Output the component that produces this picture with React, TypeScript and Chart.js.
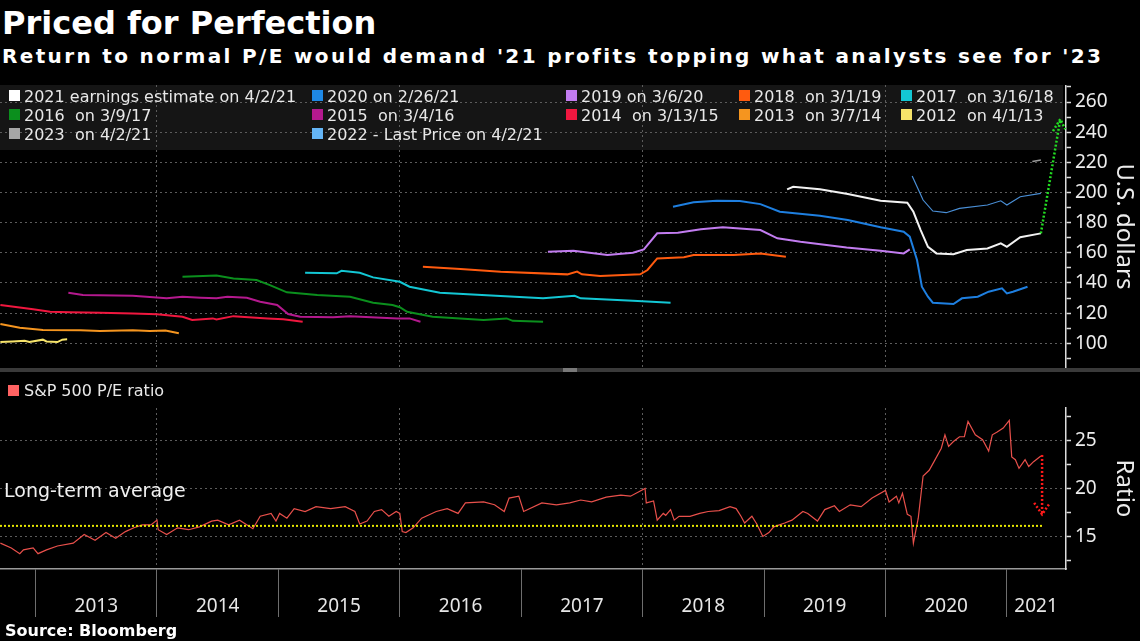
import React, { useEffect, useRef } from 'react';
import { Chart, registerables } from 'chart.js';

Chart.register(...registerables);

// ---------- shared time axis (decimal years) ----------
const xMin = 2012.707;
const xMax = 2021.487;
const yearBoundaries = [2013, 2014, 2015, 2016, 2017, 2018, 2019, 2020, 2021];
const yearLabels = ['2013', '2014', '2015', '2016', '2017', '2018', '2019', '2020', '2021'];
const yearLabelAt = [2013.5, 2014.5, 2015.5, 2016.5, 2017.5, 2018.5, 2019.5, 2020.5, 2021.24];
const gridYears = [2014, 2016, 2018, 2020];

// ---------- top panel: U.S. dollars ----------
const usdMin = 83.6;
const usdMax = 271.3;
const usdTicks = [90, 100, 110, 120, 130, 140, 150, 160, 170, 180, 190, 200, 210, 220, 230, 240, 250, 260, 270];
const usdLabelled = [100, 120, 140, 160, 180, 200, 220, 240, 260];

const e2021Dates = [2019.19, 2019.24, 2019.46, 2019.69, 2019.96, 2020.18, 2020.23, 2020.29, 2020.35, 2020.42, 2020.56, 2020.67, 2020.84, 2020.95, 2021.0, 2021.11, 2021.28];
const e2021Values = [202.1, 203.8, 202.1, 199.0, 194.5, 193.2, 187.2, 175.1, 164.0, 159.6, 159.0, 161.8, 162.9, 166.3, 164.0, 170.3, 172.9];

const e2020Dates = [2018.25, 2018.42, 2018.61, 2018.8, 2018.97, 2019.13, 2019.46, 2019.69, 2019.96, 2020.15, 2020.2, 2020.26, 2020.3, 2020.35, 2020.39, 2020.56, 2020.63, 2020.76, 2020.85, 2020.96, 2021.0, 2021.05, 2021.17];
const e2020Values = [190.6, 193.5, 194.5, 194.3, 192.3, 187.2, 184.6, 181.7, 176.9, 174.0, 170.7, 155.2, 137.5, 130.9, 126.9, 126.0, 129.8, 130.9, 134.2, 136.4, 133.1, 134.2, 137.5];

const e2019Dates = [2017.22, 2017.43, 2017.71, 2017.92, 2018.01, 2018.12, 2018.29, 2018.48, 2018.66, 2018.97, 2019.11, 2019.3, 2019.68, 2019.96, 2020.15, 2020.2];
const e2019Values = [160.7, 161.4, 158.5, 160.0, 162.3, 172.9, 173.3, 175.6, 176.9, 175.1, 169.6, 167.3, 163.6, 161.4, 159.6, 162.3];

const e2018Dates = [2016.19, 2016.5, 2016.83, 2017.38, 2017.46, 2017.5, 2017.65, 2017.98, 2018.04, 2018.12, 2018.34, 2018.42, 2018.75, 2018.97, 2019.18];
const e2018Values = [150.8, 149.2, 147.5, 145.7, 147.5, 145.7, 144.6, 145.7, 148.6, 156.3, 157.0, 158.5, 158.5, 159.6, 157.4];

const e2017Dates = [2015.22, 2015.48, 2015.52, 2015.67, 2015.78, 2016.0, 2016.08, 2016.33, 2016.83, 2017.18, 2017.44, 2017.49, 2017.92, 2018.23];
const e2017Values = [146.8, 146.4, 148.1, 146.8, 143.7, 140.8, 137.5, 133.5, 131.3, 129.8, 131.5, 129.8, 128.2, 126.9];

const e2016Dates = [2014.21, 2014.49, 2014.63, 2014.82, 2014.93, 2015.07, 2015.32, 2015.59, 2015.78, 2015.94, 2016.0, 2016.06, 2016.27, 2016.69, 2016.88, 2016.93, 2017.18];
const e2016Values = [144.1, 145.0, 143.0, 141.9, 138.6, 133.8, 132.0, 130.9, 126.9, 125.4, 123.9, 120.9, 117.6, 115.4, 116.5, 114.9, 114.3];

const e2015Dates = [2013.27, 2013.39, 2013.8, 2014.08, 2014.21, 2014.36, 2014.49, 2014.58, 2014.74, 2014.85, 2014.99, 2015.08, 2015.18, 2015.45, 2015.59, 2015.98, 2016.08, 2016.17];
const e2015Values = [133.5, 132.0, 131.5, 129.8, 130.9, 130.2, 129.8, 130.9, 130.2, 127.6, 125.4, 119.4, 117.6, 117.2, 118.0, 116.5, 116.5, 114.3];

const e2014Dates = [2012.71, 2012.98, 2013.12, 2013.28, 2013.53, 2013.8, 2014.0, 2014.21, 2014.29, 2014.46, 2014.49, 2014.63, 2014.91, 2015.04, 2015.2];
const e2014Values = [125.4, 122.5, 120.9, 120.6, 120.3, 119.8, 119.2, 117.6, 115.4, 116.5, 115.8, 118.0, 116.5, 116.0, 114.3];

const e2013Dates = [2012.71, 2012.87, 2013.06, 2013.37, 2013.53, 2013.8, 2013.94, 2014.07, 2014.18];
const e2013Values = [112.8, 110.3, 108.8, 108.6, 108.2, 108.6, 108.1, 108.4, 106.6];

const e2012Dates = [2012.71, 2012.81, 2012.91, 2012.95, 2013.06, 2013.09, 2013.18, 2013.22, 2013.26];
const e2012Values = [100.8, 101.2, 101.7, 100.8, 102.4, 101.2, 100.8, 102.4, 102.6];

const e2023Dates = [2021.21, 2021.28];
const e2023Values = [220.6, 221.6];

const e2022Dates = [2020.22, 2020.31, 2020.39, 2020.5, 2020.61, 2020.84, 2020.95, 2021.0, 2021.11, 2021.28];
const e2022Values = [210.9, 195.0, 187.7, 186.6, 189.5, 191.7, 194.5, 191.7, 197.2, 199.4];

// green arrow: 2021 profits needed for a normal P/E
const upArrowDates = [2021.28, 2021.44];
const upArrowValues = [172.9, 248.7];
const upHeadDates = [2021.38, 2021.44, 2021.48];
const upHeadValues = [240.7, 248.7, 242.0];

// ---------- bottom panel: P/E ratio ----------
const ratioMin = 11.6;
const ratioMax = 28.4;
const ratioTicks = [12.5, 15, 17.5, 20, 22.5, 25, 27.5];
const ratioLabelled = [15, 20, 25];

const peDates = [2012.71, 2012.8, 2012.87, 2012.9, 2012.98, 2013.02, 2013.09, 2013.18, 2013.31, 2013.4, 2013.49, 2013.58, 2013.66, 2013.74, 2013.81, 2013.88, 2013.95, 2014.0, 2014.01, 2014.08, 2014.17, 2014.26, 2014.35, 2014.45, 2014.5, 2014.59, 2014.68, 2014.79, 2014.85, 2014.94, 2014.98, 2015.01, 2015.07, 2015.13, 2015.22, 2015.31, 2015.43, 2015.55, 2015.63, 2015.67, 2015.73, 2015.79, 2015.85, 2015.91, 2015.97, 2016.0, 2016.02, 2016.05, 2016.11, 2016.18, 2016.3, 2016.39, 2016.48, 2016.54, 2016.69, 2016.78, 2016.86, 2016.9, 2016.98, 2017.02, 2017.17, 2017.29, 2017.4, 2017.49, 2017.58, 2017.7, 2017.82, 2017.9, 2018.02, 2018.03, 2018.09, 2018.12, 2018.17, 2018.19, 2018.23, 2018.26, 2018.3, 2018.39, 2018.47, 2018.54, 2018.63, 2018.72, 2018.77, 2018.81, 2018.84, 2018.9, 2018.94, 2018.99, 2019.04, 2019.08, 2019.17, 2019.23, 2019.32, 2019.36, 2019.44, 2019.5, 2019.58, 2019.62, 2019.71, 2019.8, 2019.89, 2020.0, 2020.03, 2020.09, 2020.11, 2020.14, 2020.18, 2020.21, 2020.23, 2020.27, 2020.31, 2020.36, 2020.4, 2020.46, 2020.49, 2020.52, 2020.56, 2020.61, 2020.65, 2020.68, 2020.74, 2020.8, 2020.85, 2020.88, 2020.92, 2020.97, 2021.02, 2021.04, 2021.07, 2021.1, 2021.15, 2021.18, 2021.22, 2021.28];
const peValues = [14.3, 13.8, 13.2, 13.6, 13.8, 13.2, 13.6, 14.0, 14.3, 15.2, 14.6, 15.4, 14.8, 15.5, 15.9, 16.2, 16.2, 16.7, 15.7, 15.2, 15.9, 15.7, 16.0, 16.6, 16.7, 16.2, 16.7, 15.8, 17.1, 17.4, 16.6, 17.4, 16.9, 17.9, 17.6, 18.1, 17.9, 18.1, 17.6, 16.3, 16.6, 17.6, 17.8, 17.1, 17.6, 17.4, 15.5, 15.4, 15.9, 16.9, 17.6, 17.9, 17.4, 18.5, 18.6, 18.3, 17.6, 19.0, 19.2, 17.6, 18.5, 18.3, 18.5, 18.8, 18.6, 19.1, 19.3, 19.2, 20.0, 18.5, 18.7, 16.7, 17.4, 17.2, 17.8, 16.7, 17.1, 17.1, 17.4, 17.6, 17.7, 18.1, 17.9, 17.1, 16.4, 17.1, 16.3, 15.0, 15.4, 16.0, 16.4, 16.7, 17.6, 17.4, 16.6, 17.8, 18.2, 17.6, 18.3, 18.1, 19.0, 19.8, 18.6, 19.2, 18.5, 19.5, 17.3, 17.1, 14.3, 16.9, 21.3, 21.9, 22.8, 24.2, 25.6, 24.4, 24.9, 25.4, 25.4, 27.0, 25.6, 25.1, 23.9, 25.6, 25.9, 26.3, 27.1, 23.3, 23.0, 22.1, 23.0, 22.3, 22.8, 23.4];

const longTermAverage = 16.1;
const averageSpan = [2012.707, 2021.29];

// red arrow: fall back to average
const downArrowDates = [2021.29, 2021.29];
const downArrowValues = [23.5, 17.3];
const downHeadDates = [2021.225, 2021.29, 2021.355];
const downHeadValues = [18.5, 17.3, 18.5];

// ---------- legend (top panel) ----------
const topLegend = [
  { label: '2021 earnings estimate on 4/2/21', color: '#ffffff', row: 0, col: 0 },
  { label: '2020 on 2/26/21', color: '#1e88e5', row: 0, col: 1 },
  { label: '2019 on 3/6/20', color: '#c27cf0', row: 0, col: 2 },
  { label: '2018  on 3/1/19', color: '#ff5b0f', row: 0, col: 3 },
  { label: '2017  on 3/16/18', color: '#13c7d4', row: 0, col: 4 },
  { label: '2016  on 3/9/17', color: '#0b8f1d', row: 1, col: 0 },
  { label: '2015  on 3/4/16', color: '#b4198e', row: 1, col: 1 },
  { label: '2014  on 3/13/15', color: '#f0173f', row: 1, col: 2 },
  { label: '2013  on 3/7/14', color: '#f5951f', row: 1, col: 3 },
  { label: '2012  on 4/1/13', color: '#f6e36a', row: 1, col: 4 },
  { label: '2023  on 4/2/21', color: '#a6a6a6', row: 2, col: 0 },
  { label: '2022 - Last Price on 4/2/21', color: '#64b5f6', row: 2, col: 1 },
];
const legendColX = [9, 312, 566, 739, 901];
const legendRowY = [90, 109, 128];

const UI_FONT = '"DejaVu Sans", sans-serif';
const AXIS_FONT = '"Noto Sans", sans-serif';

function line(xs: number[], ys: number[], color: string, width: number, dash?: number[]) {
  return {
    data: xs.map((x, i) => ({ x, y: ys[i] })),
    borderColor: color,
    backgroundColor: color,
    borderWidth: width,
    borderDash: dash || [],
    pointRadius: 0,
    tension: 0,
    fill: false,
    clip: false as any,
  };
}

const NONE = 'rgba(0,0,0,0)';

function timeAxis(withLabels: boolean) {
  return {
    type: 'linear' as const,
    position: 'bottom' as const,
    min: xMin,
    max: xMax,
    bounds: 'data' as const,
    afterBuildTicks: (axis: any) => {
      const vals = withLabels ? [...yearBoundaries, ...yearLabelAt] : [...gridYears];
      vals.sort((a, b) => a - b);
      axis.ticks = vals.map((v) => ({ value: v }));
    },
    afterFit: (axis: any) => {
      axis.height = withLabels ? 72 : 0;
      axis.paddingLeft = 0;
      axis.paddingRight = 0;
    },
    grid: {
      color: (ctx: any) => (ctx.tick && gridYears.includes(ctx.tick.value) ? '#5c5c5c' : NONE),
      lineWidth: 1,
      drawTicks: withLabels,
      tickLength: 48,
      tickColor: (ctx: any) => (ctx.tick && yearBoundaries.includes(ctx.tick.value) ? '#6e6e6e' : NONE),
      tickWidth: 1,
      tickBorderDash: [],
    },
    border: { display: withLabels, color: '#9a9a9a', width: 1.5, dash: [2, 3] },
    ticks: {
      display: withLabels,
      autoSkip: false,
      maxRotation: 0,
      minRotation: 0,
      padding: -22,
      color: '#e6e6e6',
      font: { family: AXIS_FONT, size: 19 },
      callback: (value: any) => {
        const i = yearLabelAt.indexOf(value);
        return i >= 0 ? yearLabels[i] : '';
      },
    },
  };
}

function valueAxis(min: number, max: number, ticks: number[], labelled: number[], title: string) {
  return {
    type: 'linear' as const,
    position: 'right' as const,
    min,
    max,
    bounds: 'data' as const,
    afterBuildTicks: (axis: any) => {
      axis.ticks = ticks.map((v) => ({ value: v }));
    },
    afterFit: (axis: any) => {
      axis.width = 74;
      axis.paddingTop = 0;
      axis.paddingBottom = 0;
    },
    grid: {
      color: (ctx: any) => (ctx.tick && labelled.includes(ctx.tick.value) ? '#5c5c5c' : NONE),
      lineWidth: 1,
      drawTicks: true,
      tickLength: 5,
      tickColor: '#dcdcdc',
      tickWidth: 1.5,
      tickBorderDash: [],
    },
    border: { display: true, color: '#dcdcdc', width: 1.5, dash: [2, 3] },
    ticks: {
      autoSkip: false,
      padding: 4,
      color: '#ececec',
      font: { family: AXIS_FONT, size: 19 },
      callback: (value: any) => (labelled.includes(value) ? String(value) : ''),
    },
    title: {
      display: true,
      text: title,
      color: '#ececec',
      font: { family: AXIS_FONT, size: 24 },
      padding: { top: 2, bottom: 0 },
    },
  };
}

const baseOptions = {
  responsive: false,
  maintainAspectRatio: false,
  animation: false as const,
  events: [] as any[],
  plugins: { legend: { display: false }, tooltip: { enabled: false }, title: { display: false } },
};

export default function App() {
  const topRef = useRef<HTMLCanvasElement>(null);
  const bottomRef = useRef<HTMLCanvasElement>(null);

  useEffect(() => {
    const top = new Chart(topRef.current as HTMLCanvasElement, {
      type: 'line',
      data: {
        datasets: [
          line(upArrowDates, upArrowValues, '#22dd22', 2.5, [2, 2]),
          line(upHeadDates, upHeadValues, '#22dd22', 2.5, [2, 2]),
          line(e2021Dates, e2021Values, '#f2f2f2', 2),
          line(e2022Dates, e2022Values, '#4a8fd6', 1.2),
          line(e2023Dates, e2023Values, '#9a9a9a', 1.5),
          line(e2020Dates, e2020Values, '#1e7fe0', 2),
          line(e2019Dates, e2019Values, '#c27cf0', 2),
          line(e2018Dates, e2018Values, '#ff5b0f', 2),
          line(e2017Dates, e2017Values, '#13c7d4', 2),
          line(e2016Dates, e2016Values, '#0b8f1d', 2),
          line(e2015Dates, e2015Values, '#b4198e', 2),
          line(e2014Dates, e2014Values, '#f0173f', 2),
          line(e2013Dates, e2013Values, '#f5951f', 2),
          line(e2012Dates, e2012Values, '#f6e36a', 2),
        ] as any,
      },
      options: {
        ...baseOptions,
        layout: { padding: { top: 0, bottom: 2, left: 0, right: 0 }, autoPadding: false },
        scales: {
          x: timeAxis(false),
          y: valueAxis(usdMin, usdMax, usdTicks, usdLabelled, 'U.S. dollars'),
        },
      } as any,
    });

    const bottom = new Chart(bottomRef.current as HTMLCanvasElement, {
      type: 'line',
      data: {
        datasets: [
          line(downArrowDates, downArrowValues, '#ff1a1a', 2.5, [2, 2]),
          line(downHeadDates, downHeadValues, '#ff1a1a', 2.5, [2, 2]),
          line(averageSpan, [longTermAverage, longTermAverage], '#e6e600', 2, [2, 2]),
          line(peDates, peValues, '#e8504b', 1.2),
        ] as any,
      },
      options: {
        ...baseOptions,
        layout: { padding: { top: 38, bottom: 0, left: 0, right: 0 }, autoPadding: false },
        scales: {
          x: timeAxis(true),
          y: valueAxis(ratioMin, ratioMax, ratioTicks, ratioLabelled, 'Ratio'),
        },
      } as any,
    });

    return () => {
      top.destroy();
      bottom.destroy();
    };
  }, []);

  const legendText: React.CSSProperties = {
    position: 'absolute',
    fontFamily: UI_FONT,
    fontSize: 16,
    lineHeight: '16px',
    color: '#e8e8e8',
    whiteSpace: 'pre',
  };

  return (
    <div
      style={{
        position: 'absolute',
        left: 0,
        top: 0,
        width: 1140,
        height: 641,
        background: '#000',
        overflow: 'hidden',
      }}
    >
      <div
        style={{
          position: 'absolute',
          left: 2,
          top: 7,
          fontFamily: UI_FONT,
          fontWeight: 'bold',
          fontSize: 32,
          lineHeight: '32px',
          color: '#ffffff',
          whiteSpace: 'pre',
        }}
      >
        Priced for Perfection
      </div>
      <div
        style={{
          position: 'absolute',
          left: 2,
          top: 46,
          fontFamily: UI_FONT,
          fontWeight: 'bold',
          fontSize: 20,
          lineHeight: '20px',
          letterSpacing: '2.35px',
          color: '#ffffff',
          whiteSpace: 'pre',
        }}
      >
        {"Return to normal P/E would demand '21 profits topping what analysts see for '23"}
      </div>

      {/* legend background */}
      <div style={{ position: 'absolute', left: 0, top: 85, width: 1063, height: 65, background: '#151515' }} />

      <canvas ref={topRef} width={1140} height={285} style={{ position: 'absolute', left: 0, top: 85 }} />

      {topLegend.map((item) => (
        <React.Fragment key={item.label}>
          <div
            style={{
              position: 'absolute',
              left: legendColX[item.col],
              top: legendRowY[item.row],
              width: 11,
              height: 11,
              background: item.color,
            }}
          />
          <div style={{ ...legendText, left: legendColX[item.col] + 15, top: legendRowY[item.row] - 1 }}>{item.label}</div>
        </React.Fragment>
      ))}

      {/* panel separator */}
      <div style={{ position: 'absolute', left: 0, top: 368, width: 1140, height: 4, background: '#3a3a3a' }} />
      <div style={{ position: 'absolute', left: 563, top: 368, width: 14, height: 4, background: '#787878' }} />

      <canvas ref={bottomRef} width={1140} height={271} style={{ position: 'absolute', left: 0, top: 370 }} />

      <div style={{ position: 'absolute', left: 8, top: 385, width: 11, height: 11, background: '#ff6262' }} />
      <div style={{ ...legendText, left: 24, top: 383 }}>S&amp;P 500 P/E ratio</div>

      <div
        style={{
          position: 'absolute',
          left: 4,
          top: 481,
          fontFamily: UI_FONT,
          fontSize: 19,
          lineHeight: '19px',
          color: '#f0f0f0',
          whiteSpace: 'pre',
        }}
      >
        Long-term average
      </div>

      <div
        style={{
          position: 'absolute',
          left: 5,
          top: 623,
          fontFamily: UI_FONT,
          fontWeight: 'bold',
          fontSize: 16,
          lineHeight: '16px',
          color: '#ffffff',
          whiteSpace: 'pre',
        }}
      >
        Source: Bloomberg
      </div>
    </div>
  );
}
